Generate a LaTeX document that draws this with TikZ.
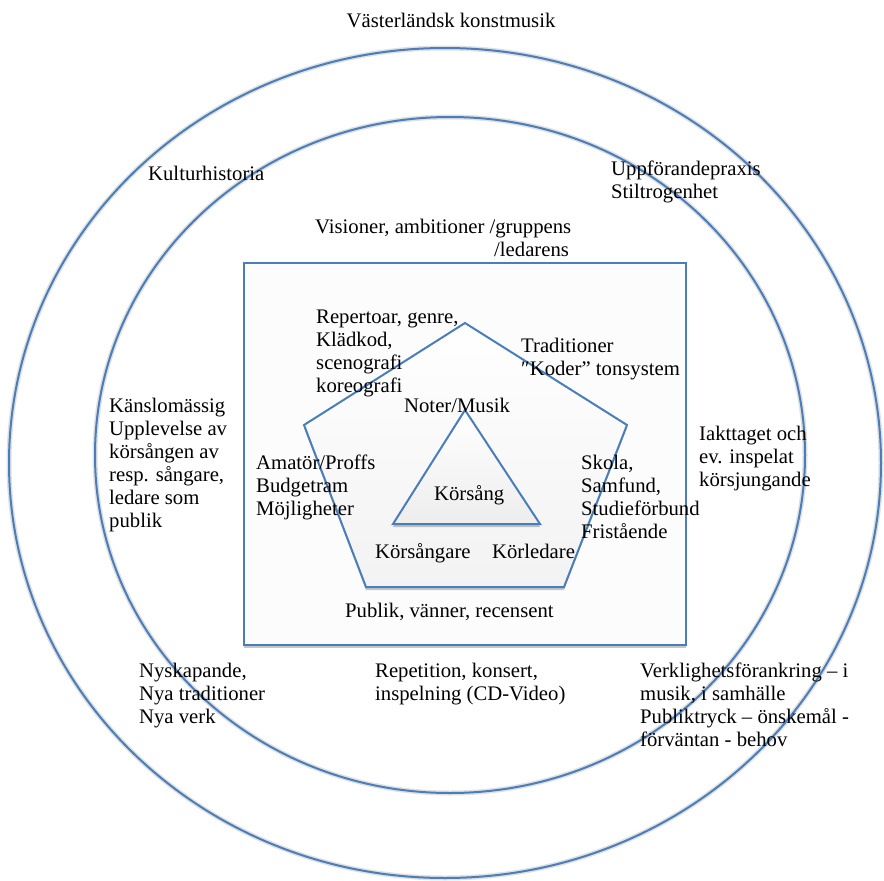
\documentclass[tikz,border=0pt]{standalone}
\usepackage{fontspec}
\setmainfont{Liberation Serif}
\usetikzlibrary{shadows}
\definecolor{lineblue}{RGB}{74,126,187}
\begin{document}
\begin{tikzpicture}[x=1pt,y=-1pt,
  shapeline/.style={draw=lineblue,line width=2pt,line join=miter},
  strokeshadow/.style={draw=black,opacity=0.12,line width=5pt,yshift=-3pt},
  boxshadow/.style={drop shadow={shadow xshift=0pt,shadow yshift=-3pt,opacity=0.22,fill=black}},
  txt/.style={font=\fontsize{20.7}{23}\selectfont,align=left,inner sep=0pt,anchor=base west,text=black}]
\useasboundingbox[fill=white] (0,0) rectangle (884,881);

% ellipses
\coordinate (oc) at (445,463);
\coordinate (ic) at (450,455);
\draw[strokeshadow] (oc) ellipse [x radius=436pt,y radius=415pt];
\draw[shapeline] (oc) ellipse [x radius=436pt,y radius=415pt];
\draw[strokeshadow] (ic) ellipse [x radius=355pt,y radius=338pt];
\draw[shapeline] (ic) ellipse [x radius=355pt,y radius=338pt];

% rectangle
\coordinate (r1) at (244,263);
\coordinate (r2) at (686,645);
\fill[black!1.2,boxshadow] (r1) rectangle (r2);
\draw[shapeline] (r1) rectangle (r2);

% pentagon
\coordinate (p1) at (465,323);
\coordinate (p2) at (627,425);
\coordinate (p3) at (564,587);
\coordinate (p4) at (366,587);
\coordinate (p5) at (304,425);
\fill[top color=white,bottom color=black!5,boxshadow] (p1) -- (p2) -- (p3) -- (p4) -- (p5) -- cycle;
\draw[shapeline] (p1) -- (p2) -- (p3) -- (p4) -- (p5) -- cycle;

% triangle
\coordinate (t1) at (465,410);
\coordinate (t2) at (540,524);
\coordinate (t3) at (393,524);
\fill[top color=white,bottom color=black!7,boxshadow] (t1) -- (t2) -- (t3) -- cycle;
\draw[shapeline] (t1) -- (t2) -- (t3) -- cycle;

% texts (multi-line nodes are placed by the baseline of their last line)
\node[txt,anchor=base] (vk) at (451,27) {Västerländsk konstmusik};
\node[txt] (kh) at (148,180) {Kulturhistoria};
\node[txt] (up) at (611,198) {Uppförandepraxis\\Stiltrogenhet};
\node[txt] (vi) at (315,256) {Visioner, ambitioner /gruppens\\\hspace*{179pt}/ledarens};
\node[txt] (re) at (316,392) {Repertoar, genre,\\Klädkod,\\scenografi\\koreografi};
\node[txt] (tr) at (521,375) {Traditioner\\″Koder” tonsystem};
\node[txt] (no) at (404,412) {Noter/Musik};
\node[txt] (ks) at (109,527) {Känslomässig\\Upplevelse av\\körsången av\\resp. sångare,\\ledare som\\publik};
\node[txt] (ia) at (699,486) {Iakttaget och\\ev. inspelat\\körsjungande};
\node[txt] (am) at (256,515) {Amatör/Proffs\\Budgetram\\Möjligheter};
\node[txt] (ko) at (434,500) {Körsång};
\node[txt] (sk) at (581,538) {Skola,\\Samfund,\\Studieförbund\\Fristående};
\node[txt] (kg) at (375,558) {Körsångare};
\node[txt] (kl) at (492,558) {Körledare};
\node[txt] (pu) at (345,617) {Publik, vänner, recensent};
\node[txt] (ny) at (139,723) {Nyskapande,\\Nya traditioner\\Nya verk};
\node[txt] (rp) at (375,700) {Repetition, konsert,\\inspelning (CD-Video)};
\node[txt] (ve) at (640,746) {Verklighetsförankring – i\\musik, i samhälle\\Publiktryck – önskemål -\\förväntan - behov};
\end{tikzpicture}
\end{document}
